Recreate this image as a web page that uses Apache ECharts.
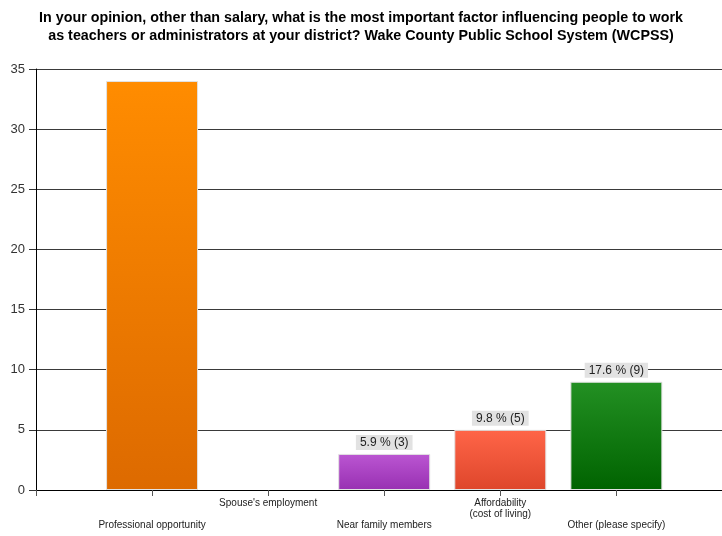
<!DOCTYPE html>
<html>
<head>
<meta charset="utf-8">
<script src="https://cdn.jsdelivr.net/npm/echarts@6/dist/echarts.min.js"></script>
<style>
  html, body { margin: 0; padding: 0; background: #fff; }
  #chart { width: 722px; height: 536px; }
</style>
</head>
<body>
<div id="chart"></div>
<script>
// Survey answers: count of respondents per factor
const categories = [
  'Professional opportunity',
  "Spouse's employment",
  'Near family members',
  'Affordability\n(cost of living)',
  'Other (please specify)'
];
const counts = [34, 0, 3, 5, 9];
// Which bars carry a "percent (count)" tag
const showTag = [false, false, true, true, true];
const yTicks = { min: 0, max: 35, step: 5 };

// Top/bottom colours of each bar's vertical gradient
const barColors = [
  ['#ff8c00', '#dd6a00'],
  ['#cccccc', '#aaaaaa'],
  ['#bb56d2', '#9830b2'],
  ['#ff6548', '#de462b'],
  ['#239023', '#006300']
];

const total = counts.reduce((a, b) => a + b, 0);
const FONT = '"Liberation Sans", Arial, sans-serif';

const barData = counts.map((v, i) => ({
  value: [i + 1, v],
  itemStyle: {
    color: new echarts.graphic.LinearGradient(0, 0, 0, 1, [
      { offset: 0, color: barColors[i][0] },
      { offset: 1, color: barColors[i][1] }
    ]),
    borderColor: '#e2e2e2',
    borderWidth: v > 0 ? 1 : 0
  },
  label: { show: showTag[i] }
}));

const chart = echarts.init(document.getElementById('chart'), null, { renderer: 'canvas' });
chart.setOption({
  animation: false,
  backgroundColor: '#ffffff',
  title: {
    text: 'In your opinion, other than salary, what is the most important factor influencing people to work\nas teachers or administrators at your district? Wake County Public School System (WCPSS)',
    left: 'center',
    top: 4,
    textStyle: {
      fontFamily: FONT,
      fontSize: 14.3,
      fontWeight: 'bold',
      color: '#000',
      lineHeight: 18,
      align: 'center'
    }
  },
  grid: { left: 36, right: 0, top: 69, bottom: 46, containLabel: false, outerBoundsMode: 'none' },
  xAxis: {
    type: 'value',
    min: 0,
    max: 5.91,
    interval: 1,
    splitLine: { show: false },
    axisLine: { show: true, onZero: false, lineStyle: { color: '#000', width: 1 } },
    axisTick: { show: true, length: 6, lineStyle: { color: '#555' } },
    axisLabel: {
      margin: 8,
      fontFamily: FONT,
      fontSize: 10,
      lineHeight: 11,
      color: '#222',
      showMaxLabel: false,
      formatter: function (v) {
        const k = Math.round(v);
        if (Math.abs(v - k) > 1e-6 || k < 1 || k > categories.length) return '';
        const name = categories[k - 1];
        // alternate rows so neighbouring names do not collide
        return (k % 2 === 1) ? '\n\n' + name : name;
      }
    }
  },
  yAxis: {
    type: 'value',
    min: yTicks.min,
    max: yTicks.max,
    interval: yTicks.step,
    axisLine: { show: true, lineStyle: { color: '#000', width: 1 } },
    axisTick: { show: true, length: 7, lineStyle: { color: '#333' } },
    axisLabel: { margin: 11, fontFamily: FONT, fontSize: 13, color: '#333' },
    splitLine: { show: true, lineStyle: { color: '#3a3a3a', width: 1 } }
  },
  series: [{
    type: 'bar',
    barWidth: 92,
    data: barData,
    label: {
      position: 'top',
      distance: 4,
      fontFamily: FONT,
      fontSize: 12,
      color: '#222',
      backgroundColor: '#e2e2e2',
      padding: [2, 4, 1, 4],
      formatter: function (p) {
        const v = p.value[1];
        return (v / total * 100).toFixed(1) + ' % (' + v + ')';
      }
    }
  }]
});
</script>
</body>
</html>
